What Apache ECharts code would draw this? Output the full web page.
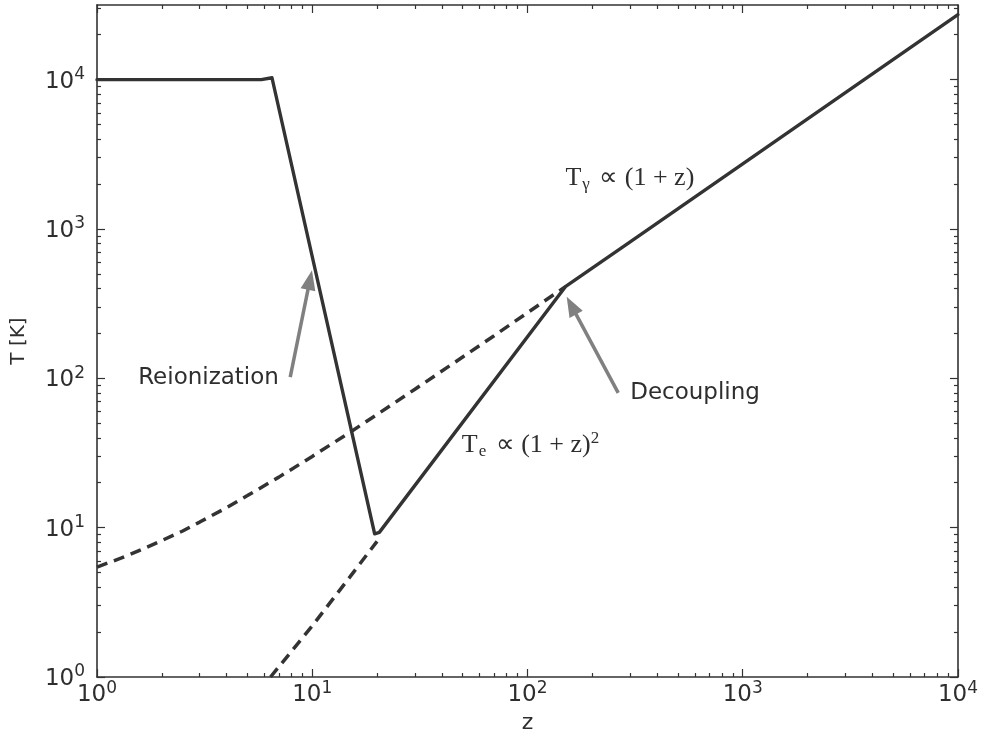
<!DOCTYPE html>
<html>
<head>
<meta charset="utf-8">
<script src="https://cdn.jsdelivr.net/npm/echarts@6/dist/echarts.min.js"></script>
<style>
  html, body { margin: 0; padding: 0; background: #fff; }
  #chart { width: 981px; height: 742px; }
</style>
</head>
<body>
<div id="chart"></div>
<script>
// solid curve: gas temperature history
const zSolid = [1, 5.8, 6.5, 19.5, 20.5, 150, 300, 1000, 3000, 10000];
const tSolid = [10000, 10000, 10300, 9.1, 9.3, 411, 820, 2728, 8178, 27250];
// dashed: photon temperature extended to low z
const zGammaDash = [1, 1.3, 1.6, 2, 2.5, 3, 4, 5, 7, 10, 15, 20, 30, 50, 70, 100, 150];
const tGammaDash = [5.45, 6.27, 7.1, 8.2, 9.5, 10.9, 13.6, 16.4, 21.8, 30, 43.6, 57.2, 84.5, 139, 193, 275, 411];
// dashed: adiabatic gas temperature extended below reionization
const zElecDash = [6.4, 10, 15, 20];
const tElecDash = [1.0, 2.2, 4.7, 8.1];

// tick values
const xMajor = [1, 10, 100, 1000, 10000];
const yMajor = [1, 10, 100, 1000, 10000];
const xMinor = [];
const yMinor = [];
for (const d of [1, 10, 100, 1000]) {
    for (let k = 2; k <= 9; k++) xMinor.push(k * d);
}
for (const d of [1, 10, 100, 1000, 10000]) {
    for (let k = 2; k <= 9; k++) if (k * d <= 31622) yMinor.push(k * d);
}

// annotations (data coordinates); arrow ends sit at the centre of the head
const arrowFrom = [[7.9, 102], [264, 80]];
const arrowTo = [[9.76, 456], [160, 307]];

const textColor = '#2e2e2e';
const supLabel = (v) => '{b|10}{s|' + Math.round(Math.log10(v)) + '}';
const labelRich = {
    b: { fontSize: 23, color: textColor, fontFamily: 'DejaVu Sans', lineHeight: 27, verticalAlign: 'bottom' },
    s: { fontSize: 17, color: textColor, fontFamily: 'DejaVu Sans', lineHeight: 17, verticalAlign: 'top' }
};

function makeAxis(position, max, ticks, len, main, extra) {
    return Object.assign({
        type: 'log',
        logBase: 10,
        position: position,
        min: 1,
        max: max,
        splitLine: { show: false },
        axisLine: { show: main, onZero: false, lineStyle: { color: '#333', width: 1.6 } },
        axisTick: { show: true, inside: true, length: len, customValues: ticks,
            lineStyle: { color: '#333', width: 1.2 } },
        axisLabel: { show: false },
        silent: true
    }, extra || {});
}

const chart = echarts.init(document.getElementById('chart'), null, { renderer: 'canvas' });

const option = {
    animation: false,
    backgroundColor: '#fff',
    grid: { left: 97, right: 20, top: 5, bottom: 65, containLabel: false },
    xAxis: [
        makeAxis('bottom', 10000, xMajor, 8, true, {
            name: 'z', nameLocation: 'middle', nameGap: 34,
            nameTextStyle: { fontSize: 22, color: textColor, fontFamily: 'DejaVu Sans' },
            axisLabel: { show: true, customValues: xMajor, margin: 3, formatter: supLabel, rich: labelRich }
        }),
        makeAxis('bottom', 10000, xMinor, 4, false),
        makeAxis('top', 10000, xMajor, 8, true),
        makeAxis('top', 10000, xMinor, 4, false)
    ],
    yAxis: [
        makeAxis('left', 31622.78, yMajor, 8, true, {
            name: 'T [K]', nameLocation: 'middle', nameGap: 68,
            nameTextStyle: { fontSize: 20, color: textColor, fontFamily: 'DejaVu Sans' },
            axisLabel: { show: true, customValues: yMajor, margin: 12, formatter: supLabel, rich: labelRich }
        }),
        makeAxis('left', 31622.78, yMinor, 4, false),
        makeAxis('right', 31622.78, yMajor, 8, true),
        makeAxis('right', 31622.78, yMinor, 4, false)
    ],
    series: [
        {
            type: 'line',
            data: zGammaDash.map((z, i) => [z, tGammaDash[i]]),
            showSymbol: false,
            lineStyle: { color: '#333', width: 3.5, type: [11, 7] },
            z: 2
        },
        {
            type: 'line',
            data: zElecDash.map((z, i) => [z, tElecDash[i]]),
            showSymbol: false,
            lineStyle: { color: '#333', width: 3.5, type: [11, 7] },
            z: 2
        },
        {
            type: 'line',
            data: zSolid.map((z, i) => [z, tSolid[i]]),
            showSymbol: false,
            lineStyle: { color: '#333', width: 3.4, cap: 'round', join: 'round' },
            z: 3
        },
        {
            type: 'scatter',
            symbolSize: 0,
            silent: true,
            itemStyle: { opacity: 1 },
            data: [
                { value: [7, 100], label: { position: 'left', formatter: 'Reionization' } },
                { value: [300, 80], label: { position: 'right', formatter: 'Decoupling' } },
                { value: [150, 2190], label: { position: 'right',
                    formatter: '{m|T}{sub|γ}{m| ∝ (1 + z)}' } },
                { value: [49.5, 35.8], label: { position: 'right',
                    formatter: '{m|T}{sub|e}{m| ∝ (1 + z)}{sup|2}' } }
            ],
            label: {
                show: true,
                distance: 0,
                fontSize: 23,
                color: textColor,
                fontFamily: 'DejaVu Sans',
                rich: {
                    m: { fontSize: 26, fontFamily: 'Liberation Serif', color: textColor, lineHeight: 30, verticalAlign: 'middle' },
                    sub: { fontSize: 17, fontFamily: 'Liberation Serif', color: textColor, lineHeight: 17,
                        verticalAlign: 'bottom', padding: [0, 3, 0, 1] },
                    sup: { fontSize: 17, fontFamily: 'Liberation Serif', color: textColor, lineHeight: 17,
                        verticalAlign: 'top' }
                }
            },
            markLine: {
                silent: true,
                symbol: ['none', 'triangle'],
                symbolSize: [15, 20],
                label: { show: false },
                lineStyle: { color: '#808080', width: 3.5, type: 'solid' },
                data: arrowFrom.map((p, i) => [{ coord: p }, { coord: arrowTo[i] }])
            },
            z: 4
        }
    ]
};

chart.setOption(option);
</script>
</body>
</html>
